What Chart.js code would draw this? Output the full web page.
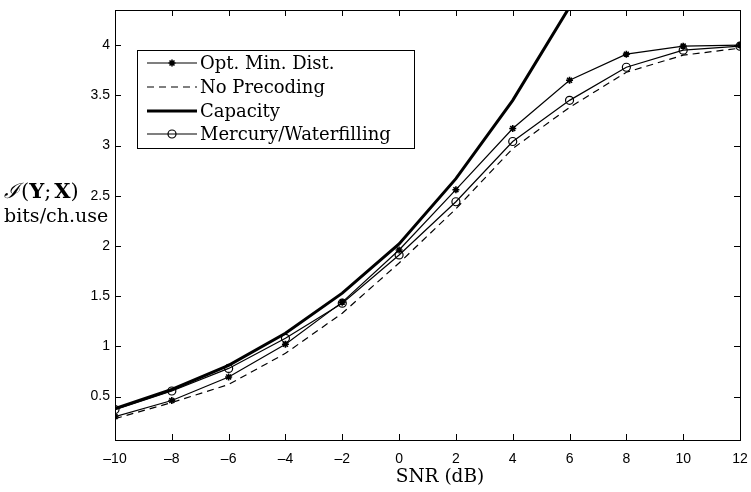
<!DOCTYPE html>
<html>
<head>
<meta charset="utf-8">
<script src="https://cdn.jsdelivr.net/npm/chart.js@4"></script>
<style>
  body { margin: 0; background: #fff; }
  #wrap { width: 751px; height: 492px; }
</style>
</head>
<body>
<div id="wrap"><canvas id="mi-chart"></canvas></div>
<script>
// values
const snr = [-10, -8, -6, -4, -2, 0, 2, 4, 6, 8, 10, 12];
const optMinDist = [0.30, 0.46, 0.695, 1.02, 1.44, 1.96, 2.56, 3.17, 3.65, 3.91, 3.99, 4.00];
const noPrecoding = [0.28, 0.44, 0.62, 0.93, 1.33, 1.83, 2.37, 2.97, 3.38, 3.73, 3.90, 3.97];
const capacity = [0.38, 0.57, 0.81, 1.13, 1.53, 2.02, 2.67, 3.45, 4.38, 5.45, 6.5, 7.6];
const mercury = [0.37, 0.555, 0.78, 1.08, 1.43, 1.91, 2.44, 3.04, 3.45, 3.78, 3.95, 3.99];
const yTicks = [0.5, 1, 1.5, 2, 2.5, 3, 3.5, 4];

const serif = '"DejaVu Serif", "Liberation Serif", serif';
const sans = '"Liberation Sans", Arial, sans-serif';

const pts = (ys) => snr.map((x, i) => ({ x: x, y: ys[i] }));

// box round the axes with inward tick marks (MATLAB style)
const boxPlugin = {
    id: 'box',
    afterDraw(chart) {
        const ctx = chart.ctx;
        const a = chart.chartArea;
        const xs = chart.scales.x, ys = chart.scales.y;
        ctx.save();
        ctx.strokeStyle = '#000';
        ctx.lineWidth = 1;
        ctx.strokeRect(a.left + 0.5, a.top + 0.5, a.right - a.left, a.bottom - a.top);
        ctx.beginPath();
        xs.ticks.forEach(t => {
            const px = Math.round(xs.getPixelForValue(t.value)) + 0.5;
            ctx.moveTo(px, a.bottom); ctx.lineTo(px, a.bottom - 6);
            ctx.moveTo(px, a.top); ctx.lineTo(px, a.top + 6);
        });
        ys.ticks.forEach(t => {
            const py = Math.round(ys.getPixelForValue(t.value)) + 0.5;
            ctx.moveTo(a.left, py); ctx.lineTo(a.left + 6, py);
            ctx.moveTo(a.right, py); ctx.lineTo(a.right - 6, py);
        });
        ctx.stroke();

        // axis titles
        ctx.fillStyle = '#000';
        ctx.font = '18.5px ' + serif;
        ctx.textAlign = 'center';
        ctx.textBaseline = 'alphabetic';
        ctx.fillText('SNR (dB)', 440, 482);

        // I(Y;X) with bold Y and X
        const parts = [
            ['\u2110', 'italic 21px ' + serif, 1],
            ['(', '21px ' + serif, 0],
            ['Y', 'bold 21px ' + serif, 0],
            [';', '21px ' + serif, 3],
            ['X', 'bold 21px ' + serif, 0],
            [')', '21px ' + serif, 0]
        ];
        ctx.textAlign = 'left';
        let x = 4;
        parts.forEach(p => {
            ctx.font = p[1];
            ctx.fillText(p[0], x, 198);
            x += ctx.measureText(p[0]).width + p[2];
        });
        ctx.font = '19px ' + serif;
        ctx.fillText('bits/ch.use', 4, 222);
        ctx.restore();
    }
};

// legend drawn inside the axes, upper left
const legendPlugin = {
    id: 'boxLegend',
    afterDraw(chart) {
        const ctx = chart.ctx;
        const bx = 137, by = 50, bw = 277, bh = 98;
        ctx.save();
        ctx.fillStyle = '#fff';
        ctx.fillRect(bx, by, bw, bh);
        ctx.strokeStyle = '#000';
        ctx.lineWidth = 1;
        ctx.strokeRect(bx + 0.5, by + 0.5, bw, bh);
        const rowY = [63, 87, 111, 134];
        chart.data.datasets.forEach((ds, i) => {
            const y = rowY[i];
            ctx.strokeStyle = '#000';
            ctx.lineWidth = ds.borderWidth;
            ctx.setLineDash(ds.borderDash || []);
            ctx.beginPath();
            ctx.moveTo(147, y);
            ctx.lineTo(197, y);
            ctx.stroke();
            ctx.setLineDash([]);
            if (ds.pointRadius > 0) {
                ctx.lineWidth = ds.pointBorderWidth;
                ctx.fillStyle = ds.pointBackgroundColor;
                Chart.helpers.drawPoint(ctx, {
                    pointStyle: ds.pointStyle,
                    radius: ds.pointRadius,
                    borderWidth: ds.pointBorderWidth,
                    rotation: 0
                }, 172, y);
            }
            ctx.fillStyle = '#000';
            ctx.font = '18px ' + serif;
            ctx.textBaseline = 'middle';
            ctx.fillText(ds.label, 200, y + 1);
        });
        ctx.restore();
    }
};

new Chart(document.getElementById('mi-chart'), {
    type: 'line',
    data: {
        datasets: [{
            label: 'Opt. Min. Dist.',
            data: pts(optMinDist),
            borderColor: '#000',
            borderWidth: 1.2,
            pointStyle: 'star',
            pointRadius: 3.5,
            pointBorderWidth: 1.6,
            pointBorderColor: '#000',
            pointBackgroundColor: '#000'
        }, {
            label: 'No Precoding',
            data: pts(noPrecoding),
            borderColor: '#000',
            borderWidth: 1.2,
            borderDash: [7, 5],
            pointRadius: 0
        }, {
            label: 'Capacity',
            data: pts(capacity),
            borderColor: '#000',
            borderWidth: 3,
            pointRadius: 0,
            clip: 0
        }, {
            label: 'Mercury/Waterfilling',
            data: pts(mercury),
            borderColor: '#000',
            borderWidth: 1.2,
            pointStyle: 'circle',
            pointRadius: 4,
            pointBorderWidth: 1.2,
            pointBorderColor: '#000',
            pointBackgroundColor: 'rgba(0,0,0,0)'
        }]
    },
    options: {
        responsive: true,
        maintainAspectRatio: false,
        animation: false,
        layout: {
            padding: { left: 0, right: 11, top: 10, bottom: 0 }
        },
        plugins: {
            legend: { display: false },
            tooltip: { enabled: false }
        },
        elements: {
            line: { tension: 0 }
        },
        scales: {
            x: {
                type: 'linear',
                min: -10,
                max: 12,
                grid: { display: false, drawTicks: false },
                border: { display: false },
                ticks: {
                    stepSize: 2,
                    padding: 11,
                    color: '#000',
                    font: { family: sans, size: 14 },
                    callback: (v) => String(v).replace('-', '\u2013')
                },
                afterFit: (s) => {
                    s.height = 52;
                    s.paddingLeft = 0;
                    s.paddingRight = 0;
                }
            },
            y: {
                min: 0.067,
                max: 4.35,
                grid: { display: false, drawTicks: false },
                border: { display: false },
                afterBuildTicks: (s) => { s.ticks = yTicks.map(v => ({ value: v })); },
                ticks: {
                    padding: 5,
                    color: '#000',
                    font: { family: sans, size: 14 },
                    callback: (v) => String(v)
                },
                afterFit: (s) => {
                    s.width = 115;
                    s.paddingTop = 0;
                    s.paddingBottom = 0;
                }
            }
        }
    },
    plugins: [boxPlugin, legendPlugin]
});
</script>
</body>
</html>
